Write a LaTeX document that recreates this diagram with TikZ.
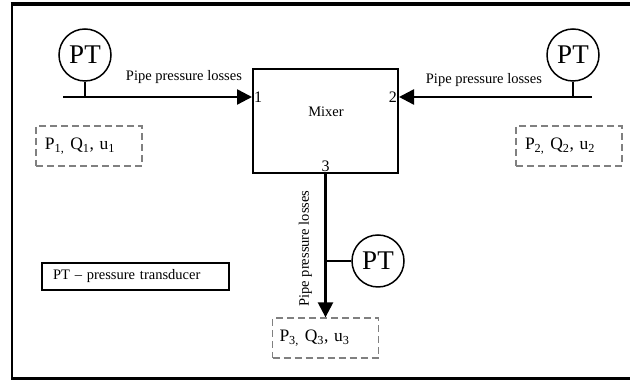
\documentclass[tikz,border=0pt]{standalone}
\usepackage{fontspec}
\setmainfont{Liberation Serif}
\usetikzlibrary{arrows.meta,positioning}

\begin{document}
\begin{tikzpicture}[x=1pt, y=1pt,
  mixbox/.style={draw, line width=2pt, minimum width=145pt, minimum height=104pt},
  ptcirc/.style={draw, circle, line width=1.5pt, minimum size=52pt, inner sep=0pt, font=\fontsize{27}{29}\selectfont},
  pipe/.style={line width=2.5pt, -{Triangle[length=15pt,width=15pt]}},
  stem/.style={line width=1.5pt},
  lbl/.style={font=\fontsize{14.5}{17}\selectfont, inner sep=1pt},
  num/.style={font=\fontsize{16}{18}\selectfont, inner sep=2pt},
  varbox/.style={draw=gray, dash pattern=on 7pt off 4pt, line width=1.3pt, text width=88pt, inner xsep=9pt,
    minimum height=40pt, align=left, font=\fontsize{17.5}{20}\selectfont},
  legend/.style={draw, line width=1.5pt, text width=165pt, inner xsep=11pt, minimum height=27pt,
    align=left, font=\fontsize{14.5}{17}\selectfont},
]
  \useasboundingbox (0,0) rectangle (630,382);
  % outer frame, cut on the right
  \draw[line width=2.5pt] (640,3.5) -- (11.8,3.5) -- (11.8,378);
  \draw[line width=4pt] (10.6,378) -- (640,378);

  \node[mixbox] (mix) at (325.5,261) {};
  \node[lbl] (mixlbl) at (326,270) {Mixer};

  \coordinate (in1) at (63,285);
  \coordinate (in2) at (592,285);

  \node[ptcirc] (pt1) at (85,327) {PT};
  \node[ptcirc] (pt2) at (573,327) {PT};

  \node[varbox] (var1) at (89,236) {P\textsubscript{1,} Q\textsubscript{1}, u\textsubscript{1}};
  \node[varbox] (var2) at (569,236) {P\textsubscript{2,} Q\textsubscript{2}, u\textsubscript{2}};
  \node[varbox, inner xsep=7pt, text width=92pt] (var3) at (325.5,44) {P\textsubscript{3,} Q\textsubscript{3}, u\textsubscript{3}};

  \node[ptcirc] (pt3) at (378,121) {PT};
  \node[legend] (key) at (135.5,105.5) {PT -- pressure transducer};

  \draw[pipe] (in1) -- node[lbl, pos=0.64, yshift=20pt] {Pipe pressure losses} (in1 -| mix.west);
  \draw[pipe] (in2) -- node[lbl, pos=0.56, yshift=17pt] {Pipe pressure losses} (in2 -| mix.east);
  \draw[pipe] (mix.south) -- node[lbl, pos=0.52, xshift=-20pt, rotate=90] {Pipe pressure losses} (var3.north);

  \draw[stem] (pt1.south) -- (pt1.south |- in1);
  \draw[stem] (pt2.south) -- (pt2.south |- in2);
  \draw[stem] (pt3.west) -- (pt3.west -| mix.south);

  \node[num, anchor=west] (n1) at (mix.west |- in1) {1};
  \node[num, anchor=east] (n2) at (mix.east |- in2) {2};
  \node[num, anchor=south] (n3) at (mix.south) {3};
\end{tikzpicture}
\end{document}
